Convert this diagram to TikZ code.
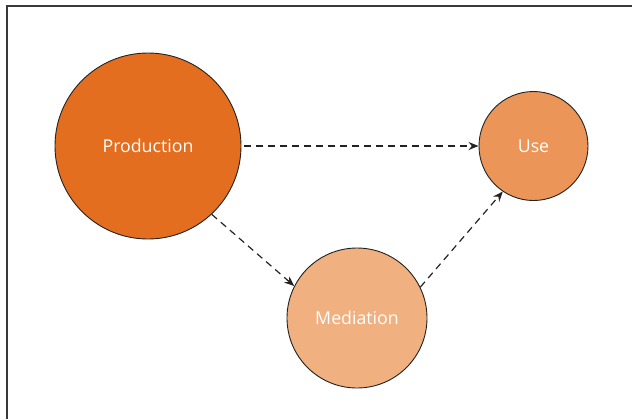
\documentclass[tikz,border=0pt]{standalone}
\usepackage{fontspec}
\setmainfont{Open Sans}
\usetikzlibrary{arrows.meta}
\definecolor{cprod}{HTML}{E36E1F}
\definecolor{cuse}{HTML}{EB9558}
\definecolor{cmed}{HTML}{F0B080}
\definecolor{cframe}{HTML}{3A3A3A}
\definecolor{cline}{HTML}{222222}
\tikzset{
  stage/.style={circle, draw=cline, line width=0.9bp, inner sep=0pt, text=white,
    font=\fontsize{17.8}{21}\selectfont},
  flow/.style={draw=cline, line width=1.2bp, dash pattern=on 7bp off 5bp,
    -{Stealth[length=10bp,width=8bp]}},
}
\begin{document}
\begin{tikzpicture}[x=1bp,y=-1bp]
\useasboundingbox (0,0) rectangle (632,419);
\draw[cframe, line width=2bp] (6.5,419) -- (6.5,5.5) -- (632,5.5);
\node[stage, fill=cprod, minimum size=186bp] (prod) at (148,146) {Production};
\node[stage, fill=cuse, minimum size=109bp] (use) at (533.5,146) {Use};
\node[stage, fill=cmed, minimum size=140bp] (med) at (357,318) {Mediation};
\draw[flow] (prod.east) ++(3bp,0) -- (use.west);
\draw[flow] (prod.313) -- (med.153);
\draw[flow] (med.26) -- (use.236);
\end{tikzpicture}
\end{document}
